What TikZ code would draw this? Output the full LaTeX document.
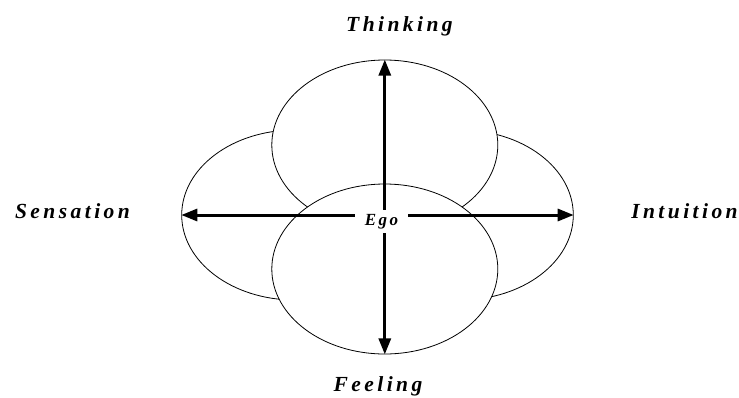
\documentclass[tikz,border=0pt]{standalone}
\usepackage{fontspec}
\setmainfont{Liberation Serif}
\newfontfamily\typefont{Liberation Serif}[LetterSpace=16]
\newfontfamily\egofont{Liberation Serif}[LetterSpace=14]
\usetikzlibrary{shapes.geometric,arrows.meta}
\tikzset{
  lobe/.style={ellipse,draw,fill=white,line width=0.8pt,
    minimum width=226pt,minimum height=170pt,inner sep=0pt},
  axisarrow/.style={line width=3pt,
    {Triangle[length=16pt,width=12pt]}-{Triangle[length=16pt,width=12pt]}},
  typelabel/.style={anchor=base,inner sep=0pt,
    font=\typefont\bfseries\itshape\fontsize{21.5}{24}\selectfont}
}
\begin{document}
\begin{tikzpicture}[x=1pt,y=-1pt,line cap=butt,line join=miter]
  \useasboundingbox (0,0) rectangle (739,397);
  % the four lobes, side ones behind
  \node[lobe] (sens) at (294.7,215) {};
  \node[lobe] (intu) at (460.3,215) {};
  \node[lobe] (think) at (384.8,145) {};
  \node[lobe] (feel) at (384.8,269) {};
  % axes
  \draw[axisarrow] (sens.west) -- (intu.east);
  \draw[axisarrow] (feel.south) -- (think.north);
  \node[fill=white,minimum width=53pt,minimum height=23pt,inner sep=0pt,
    font=\egofont\bfseries\itshape\fontsize{17}{19}\selectfont] (ego) at (381.5,221.5) {Ego};
  % the four functions
  \node[typelabel] (thinking) at (399.5,31.7) {Thinking};
  \node[typelabel] (feeling) at (378,391.5) {Feeling};
  \node[typelabel] (sensation) at (72.5,218.5) {Sensation};
  \node[typelabel] (intuition) at (684.5,218.3) {Intuition};
\end{tikzpicture}
\end{document}
